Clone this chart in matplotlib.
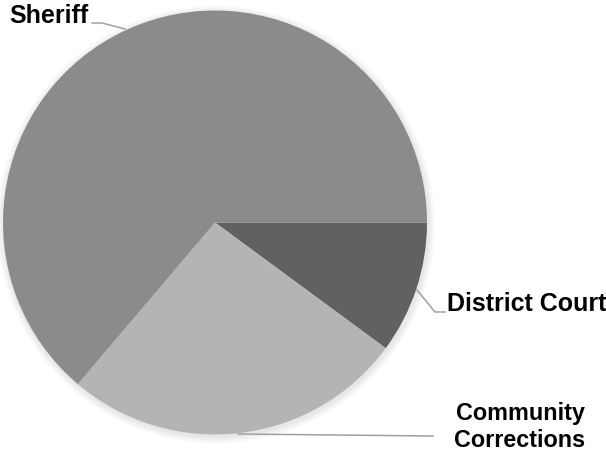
import matplotlib
matplotlib.use("Agg")
import matplotlib.pyplot as plt
from matplotlib.patches import Circle

categories = ["District Court", "Community\nCorrections", "Sheriff"]
values = [10.1, 26.1, 63.8]
colors = ["#616161", "#b4b4b4", "#8b8b8b"]

W, H = 606, 453
fig = plt.figure(figsize=(W / 100, H / 100), dpi=100)
ax = fig.add_axes([0, 0, 1, 1])

cx, cy, r = 215, H - 222.5, 212

# soft shadow
for k in range(8, 0, -1):
    ax.add_patch(Circle((cx + 1, cy - 2), r + k * 0.9, color="#000000",
                        alpha=0.012, lw=0, zorder=0))

wedges, _ = ax.pie(values, colors=colors, startangle=0, counterclock=False,
                   center=(cx, cy), radius=r,
                   wedgeprops=dict(linewidth=0, zorder=1))

ax.set_xlim(0, W)
ax.set_ylim(0, H)
ax.set_aspect("equal")
ax.axis("off")

font = dict(family=["Liberation Sans", "DejaVu Sans"], fontweight="bold",
            fontsize=18, color="black")
line_kw = dict(color="#a0a0a0", lw=1.1, zorder=3)

def Y(y):
    return H - y

# Sheriff
ax.plot([92, 102, 125], [Y(23), Y(23), Y(29)], **line_kw)
ax.text(9, Y(16), "Sheriff", ha="left", va="center", **font)

# District Court
ax.plot([417, 435, 445], [Y(290), Y(312), Y(312)], **line_kw)
ax.text(447, Y(304), "District Court", ha="left", va="center", **font)

# Community Corrections
ax.plot([238, 433], [Y(434), Y(436)], **line_kw)
cc_font = dict(font, fontsize=16.8)
ax.text(520, Y(427), "Community\nCorrections", ha="center", va="center",
        linespacing=1.2, **cc_font)

fig.savefig("out.png", dpi=100)
